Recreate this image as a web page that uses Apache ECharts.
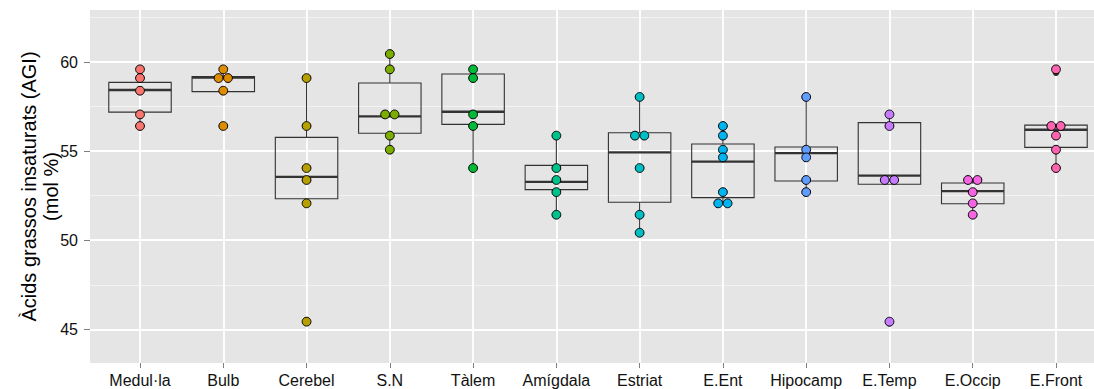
<!DOCTYPE html>
<html>
<head>
<meta charset="utf-8">
<script src="https://cdn.jsdelivr.net/npm/echarts/dist/echarts.min.js"></script>
<style>
html,body{margin:0;padding:0;background:#ffffff;}
#chart{width:1094px;height:389px;}
</style>
</head>
<body>
<div id="chart"></div>
<script>
// ---------------- data ----------------
const categories = ['Medul·la','Bulb','Cerebel','S.N','Tàlem','Amígdala','Estriat','E.Ent','Hipocamp','E.Temp','E.Occip','E.Front'];
const groupColors = ['#F8766D','#DE8C00','#B79F00','#7CAE00','#00BA38','#00C08B','#00BFC4','#00B4F0','#619CFF','#C77CFF','#F564E3','#FF64B0'];

// individual observations (dot plot, binned)
const dotsMedulla  = [59.59, 59.10, 58.39, 57.06, 56.41];
const dotsBulb     = [59.59, 59.10, 59.10, 58.39, 56.41];
const dotsCerebel  = [59.10, 56.41, 54.05, 53.38, 52.07, 45.43];
const dotsSN       = [60.45, 59.59, 57.06, 57.06, 55.87, 55.08];
const dotsTalem    = [59.59, 59.10, 57.06, 56.41, 54.05];
const dotsAmigdala = [55.87, 54.05, 53.38, 52.70, 51.43];
const dotsEstriat  = [58.04, 55.87, 55.87, 54.05, 51.43, 50.42];
const dotsEEnt     = [56.41, 55.87, 55.08, 54.65, 52.70, 52.07, 52.07];
const dotsHipocamp = [58.04, 55.08, 54.65, 53.38, 52.70];
const dotsETemp    = [57.06, 56.41, 53.38, 53.38, 45.43];
const dotsEOccip   = [53.38, 53.38, 52.70, 52.07, 51.43];
const dotsEFront   = [59.59, 56.41, 56.41, 55.87, 55.08, 54.05];

// box statistics: [lower whisker, Q1, median, Q3, upper whisker]
const boxMedulla  = [56.41, 57.19, 58.43, 58.86, 59.59];
const boxBulb     = [58.34, 58.34, 59.12, 59.18, 59.59];
const boxCerebel  = [52.07, 52.33, 53.55, 55.77, 59.10];
const boxSN       = [55.08, 56.00, 56.95, 58.82, 60.45];
const boxTalem    = [54.05, 56.50, 57.21, 59.33, 59.59];
const boxAmigdala = [51.43, 52.84, 53.27, 54.20, 55.87];
const boxEstriat  = [50.42, 52.13, 54.93, 56.03, 58.04];
const boxEEnt     = [52.07, 52.39, 54.41, 55.40, 56.41];
const boxHipocamp = [52.70, 53.32, 54.89, 55.23, 58.04];
const boxETemp    = [53.14, 53.14, 53.62, 56.60, 57.06];
const boxEOccip   = [51.43, 52.05, 52.76, 53.21, 53.38];
const boxEFront   = [54.05, 55.21, 56.20, 56.46, 56.46];

// boxplot outliers: [category index, value]
const outliers = [[1, 56.41], [2, 45.50], [9, 45.36], [11, 59.42]];

const yTickLabels = [45, 50, 55, 60];
const yTitle = 'Àcids grassos insaturats (AGI)\n(mol %)';

// ---------------- build ----------------
const dotGroups = [dotsMedulla, dotsBulb, dotsCerebel, dotsSN, dotsTalem, dotsAmigdala,
                   dotsEstriat, dotsEEnt, dotsHipocamp, dotsETemp, dotsEOccip, dotsEFront];
const boxGroups = [boxMedulla, boxBulb, boxCerebel, boxSN, boxTalem, boxAmigdala,
                   boxEstriat, boxEEnt, boxHipocamp, boxETemp, boxEOccip, boxEFront];

const FONT = "'Liberation Sans', Arial, Helvetica, sans-serif";
const DOT_STEP = 9.4;

const dotData = [];
dotGroups.forEach((vals, i) => {
  const counts = {};
  vals.forEach(v => { counts[v] = (counts[v] || 0) + 1; });
  const seen = {};
  vals.forEach(v => {
    const k = counts[v];
    const j = seen[v] || 0;
    seen[v] = j + 1;
    dotData.push({
      value: [i, v],
      symbolOffset: [(j - (k - 1) / 2) * DOT_STEP, 0],
      itemStyle: { color: groupColors[i] }
    });
  });
});

const boxData = boxGroups.map((s, i) => [i].concat(s));

function renderBox(params, api) {
  const i = api.value(0);
  const lo = api.value(1), q1 = api.value(2), med = api.value(3), q3 = api.value(4), hi = api.value(5);
  const half = api.size([1, 0])[0] * 0.375;
  const pLo = api.coord([i, lo]);
  const pQ1 = api.coord([i, q1]);
  const pMed = api.coord([i, med]);
  const pQ3 = api.coord([i, q3]);
  const pHi = api.coord([i, hi]);
  const x = pMed[0];
  const st = { stroke: '#333333', lineWidth: 1.1, fill: null };
  return {
    type: 'group',
    children: [
      { type: 'line', shape: { x1: x, y1: pQ3[1], x2: x, y2: pHi[1] }, style: st },
      { type: 'line', shape: { x1: x, y1: pQ1[1], x2: x, y2: pLo[1] }, style: st },
      { type: 'rect', shape: { x: x - half, y: pQ3[1], width: 2 * half, height: pQ1[1] - pQ3[1] },
        style: { stroke: '#333333', lineWidth: 1.1, fill: 'none' } },
      { type: 'line', shape: { x1: x - half, y1: pMed[1], x2: x + half, y2: pMed[1] },
        style: { stroke: '#333333', lineWidth: 2.3 } }
    ]
  };
}

const chart = echarts.init(document.getElementById('chart'), null, { renderer: 'svg' });
chart.setOption({
  animation: false,
  backgroundColor: '#ffffff',
  textStyle: { fontFamily: FONT },
  grid: [
    // panel background
    { left: 90, right: 0, top: 10, bottom: 26, show: true, backgroundColor: '#E5E5E5', borderWidth: 0, z: -1,
      outerBoundsMode: 'none', containLabel: false },
    // horizontal grid + y labels (extended range so ticks are round)
    { left: 90, right: 0, top: -27.1, bottom: -29.4, outerBoundsMode: 'none', containLabel: false },
    // data grid
    { left: 140, right: 38, top: 10, bottom: 26, outerBoundsMode: 'none', containLabel: false }
  ],
  xAxis: [
    { gridIndex: 0, type: 'value', show: false, min: 0, max: 1 },
    { gridIndex: 1, type: 'value', show: false, min: 0, max: 1 },
    {
      gridIndex: 2, type: 'value', min: 0, max: 11, interval: 1,
      axisLine: { show: false },
      axisTick: { show: true, length: 5, lineStyle: { color: '#7F7F7F', width: 1 } },
      axisLabel: { formatter: v => categories[v] || '', fontSize: 16, color: '#111111', margin: 9, fontFamily: FONT },
      splitLine: { show: true, lineStyle: { color: '#FFFFFF', width: 1.8 } }
    }
  ],
  yAxis: [
    {
      gridIndex: 0, type: 'value', min: 0, max: 1,
      name: yTitle, nameLocation: 'middle', nameGap: 28,
      nameTextStyle: { fontSize: 20, color: '#000000', lineHeight: 22, fontFamily: FONT },
      axisLine: { show: false }, axisTick: { show: false }, axisLabel: { show: false }, splitLine: { show: false }
    },
    {
      gridIndex: 1, type: 'value', min: 40, max: 65, interval: 5,
      axisLine: { show: false },
      axisTick: { show: true, length: 6, lineStyle: { color: '#7F7F7F', width: 1 } },
      axisLabel: {
        fontSize: 16, color: '#111111', margin: 12, fontFamily: FONT,
        formatter: v => (yTickLabels.indexOf(v) >= 0 ? String(v) : '')
      },
      splitLine: { show: true, lineStyle: { color: '#FFFFFF', width: 1.8 } },
      minorTick: { show: false, splitNumber: 2 },
      minorSplitLine: { show: true, lineStyle: { color: 'rgba(255,255,255,0.55)', width: 1 } }
    },
    { gridIndex: 2, type: 'value', min: 43.11, max: 62.92, show: false }
  ],
  series: [
    {
      type: 'custom', xAxisIndex: 2, yAxisIndex: 2,
      renderItem: renderBox, data: boxData,
      encode: { x: 0, y: [1, 2, 3, 4, 5] }, clip: false, z: 2
    },
    {
      type: 'scatter', xAxisIndex: 2, yAxisIndex: 2,
      data: outliers, symbol: 'circle', symbolSize: 7,
      itemStyle: { color: '#000000' }, clip: false, z: 3
    },
    {
      type: 'scatter', xAxisIndex: 2, yAxisIndex: 2,
      data: dotData, symbol: 'circle', symbolSize: 8.8,
      itemStyle: { borderColor: '#000000', borderWidth: 1, opacity: 1 },
      clip: false, z: 4
    }
  ]
});
</script>
</body>
</html>
